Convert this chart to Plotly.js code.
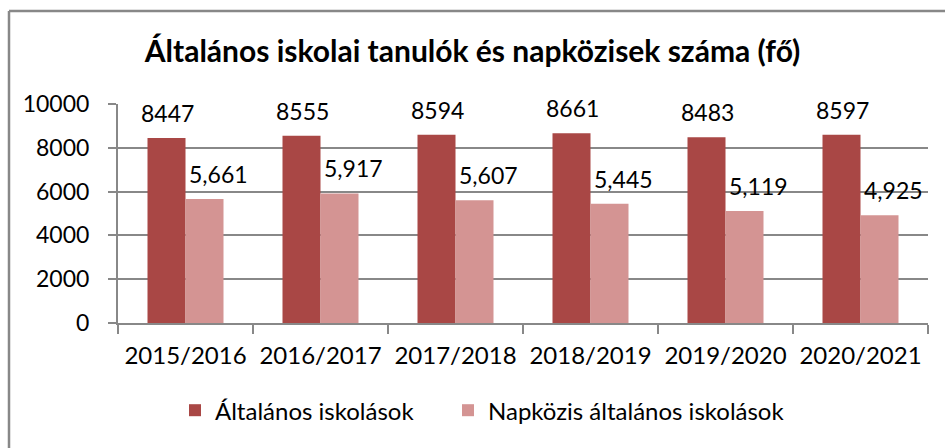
<!DOCTYPE html>
<html>
<head>
<meta charset="utf-8">
<script src="https://cdn.plot.ly/plotly-3.0.1.min.js"></script>
<style>
  html, body { margin: 0; padding: 0; background: #fff; }
  #chart { width: 945px; height: 448px; }
</style>
</head>
<body>
<div id="chart"></div>
<script>
var years = ['2015/2016', '2016/2017', '2017/2018', '2018/2019', '2019/2020', '2020/2021'];
var altalanos = [8447, 8555, 8594, 8661, 8483, 8597];
var napkozis = [5661, 5917, 5607, 5445, 5119, 4925];

var font = 'Lato, Calibri, "Open Sans", sans-serif';

var trace1 = {
  x: years,
  y: altalanos,
  name: 'Általános iskolások',
  type: 'bar',
  marker: {color: '#A94745'},
  hoverinfo: 'y',
  legend: 'legend'
};

var trace2 = {
  x: years,
  y: napkozis,
  name: 'Napközis általános iskolások',
  type: 'bar',
  marker: {color: '#D49493'},
  hoverinfo: 'y',
  legend: 'legend2'
};

// value labels sit above the bars, like in the excel chart
var annotations = [];
years.forEach(function (yr, i) {
  annotations.push({
    x: yr, y: altalanos[i], xref: 'x', yref: 'y',
    text: String(altalanos[i]),
    showarrow: false, xshift: -18, yshift: 25,
    font: {family: font, size: 23, color: '#000'}
  });
  annotations.push({
    x: yr, y: napkozis[i], xref: 'x', yref: 'y',
    text: napkozis[i].toLocaleString('en-US'),
    showarrow: false, xshift: 33, yshift: 25,
    font: {family: font, size: 23, color: '#000'}
  });
});

var legendBase = {
  orientation: 'h',
  xanchor: 'left',
  y: -0.4, yanchor: 'middle',
  font: {family: font, size: 24, color: '#000'},
  itemwidth: 30
};

var layout = {
  width: 945,
  height: 448,
  margin: {l: 118, r: 17, t: 104, b: 125},
  paper_bgcolor: '#fff',
  plot_bgcolor: '#fff',
  font: {family: font, size: 18, color: '#000'},
  title: {
    text: '<b>Általános iskolai tanulók és napközisek száma (fő)</b>',
    font: {family: font, size: 30, color: '#000'},
    x: 0.5, xanchor: 'center',
    y: 0.885, yanchor: 'middle'
  },
  barmode: 'group',
  bargap: 0.437,
  bargroupgap: 0,
  xaxis: {
    type: 'category',
    showline: true,
    linecolor: '#888',
    linewidth: 2,
    ticks: 'outside',
    tickson: 'boundaries',
    ticklen: 9,
    tickcolor: '#888',
    tickwidth: 2,
    showgrid: false,
    tickfont: {family: font, size: 24, color: '#000'},
    ticklabelstandoff: 10
  },
  yaxis: {
    range: [0, 10000],
    dtick: 2000,
    showline: true,
    linecolor: '#888',
    linewidth: 2,
    ticks: 'outside',
    ticklen: 8,
    tickcolor: '#888',
    tickwidth: 2,
    gridcolor: '#888',
    gridwidth: 2,
    zeroline: false,
    tickformat: 'd',
    tickfont: {family: font, size: 23, color: '#000'},
    ticklabelstandoff: 14
  },
  legend: Object.assign({}, legendBase, {x: (175 - 118) / 810}),
  legend2: Object.assign({}, legendBase, {x: (448 - 118) / 810}),
  annotations: annotations,
  shapes: [
    {type: 'line', xref: 'paper', yref: 'paper',
     x0: (9 - 118) / 810, x1: (9 - 118) / 810, y0: (323 - 11) / 219, y1: -0.7,
     line: {color: '#888', width: 2.5}},
    {type: 'line', xref: 'paper', yref: 'paper',
     x0: (9 - 118) / 810, x1: 1.1, y0: (323 - 11) / 219, y1: (323 - 11) / 219,
     line: {color: '#888', width: 2.5}}
  ],
  showlegend: true
};

Plotly.newPlot('chart', [trace1, trace2], layout, {displayModeBar: false});
</script>
</body>
</html>
